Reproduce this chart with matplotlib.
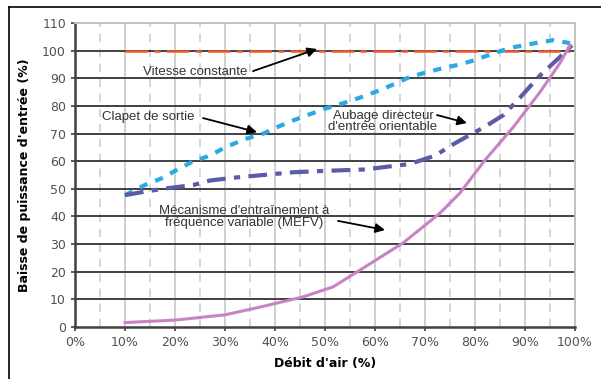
import matplotlib
matplotlib.use("Agg")
import matplotlib.pyplot as plt
from matplotlib.lines import Line2D

# data (x in %, y in %)
x_vitesse = [10, 99]
y_vitesse = [100, 100]

x_clapet = [10, 14, 17.6, 20, 23.7, 27, 30, 34, 37.7, 40, 44, 47, 50, 53.7, 57, 60,
            64, 67, 70, 73.6, 77, 80, 83.7, 87, 90, 92, 95.7, 99]
y_clapet = [47.7, 51.4, 54, 56.5, 60, 62, 65, 68, 70, 72, 75, 77, 79, 81, 83, 85,
            88, 90.5, 92, 93.7, 95, 96.6, 99, 101, 102, 102.7, 103.8, 102.7]

x_aubage = [10, 14, 17.6, 23.7, 27, 31.6, 43.7, 50, 58, 67, 72, 76, 82, 85.7, 89, 93, 97, 99.4]
y_aubage = [47.7, 49, 50, 51.4, 53, 54, 56, 56.5, 57, 59, 62, 66.5, 72.5, 76.7, 83, 91, 97.7, 102]

x_mefv = [10, 20, 30, 37, 45.6, 51.6, 57, 65.6, 73, 77, 82, 87.7, 93, 97, 99]
y_mefv = [1.6, 2.5, 4.4, 7.2, 10.9, 14.5, 20.6, 30.4, 41.2, 48.5, 60.4, 72.4, 85, 95.5, 102]

x_ticks = list(range(0, 101, 10))
x_labels = [f"{v}%" for v in x_ticks]
y_ticks = list(range(0, 111, 10))

fig = plt.figure(figsize=(6.01, 3.79), dpi=100)
ax = fig.add_axes([0.1248, 0.1372, 0.8319, 0.8021])

# grid
for v in range(5, 100, 10):
    ax.axvline(v, color="#d0d0d0", lw=1.2, ls=(0, (5, 4)), zorder=0)
for v in range(10, 100, 10):
    ax.axvline(v, color="#c8c8c8", lw=1.2, zorder=0)
for v in range(10, 110, 10):
    ax.axhline(v, color="#404040", lw=1.4, zorder=0.5)

ax.plot(x_vitesse, y_vitesse, color="#f0582a", lw=1.8, dashes=[9, 2.5, 2.5, 2.5], zorder=3)
ax.plot(x_clapet, y_clapet, color="#2aaae2", lw=3, dashes=[2, 2], zorder=3)
ax.plot(x_aubage, y_aubage, color="#5b5ca8", lw=3, dashes=[4.5, 2, 1.5, 2], zorder=3)
ax.plot(x_mefv, y_mefv, color="#c883c2", lw=2.2, zorder=3)

ax.set_xlim(0, 100)
ax.set_ylim(0, 110)
ax.set_xticks(x_ticks)
ax.set_xticklabels(x_labels)
ax.set_yticks(y_ticks)
ax.tick_params(length=3, width=1.2, color="#404040", labelsize=9, labelcolor="#505050")

for s in ["left", "bottom"]:
    ax.spines[s].set_color("#404040")
    ax.spines[s].set_linewidth(1.8)
for s in ["top", "right"]:
    ax.spines[s].set_color("#c0c0c0")
    ax.spines[s].set_linewidth(1.4)

ax.set_xlabel("Débit d'air (%)", fontweight="bold", fontsize=9, labelpad=6)
ax.set_ylabel("Baisse de puissance d'entrée (%)", fontweight="bold", fontsize=9, labelpad=8)

arrow = dict(arrowstyle="-|>", color="black", lw=1.3, mutation_scale=14, shrinkA=0, shrinkB=0)
tfont = dict(fontsize=9.5, color="#333333", family="Liberation Sans")

ax.text(24, 92.3, "Vitesse constante", ha="center", va="center", **tfont)
ax.annotate("", xy=(48.4, 100.6), xytext=(35.6, 92.6), arrowprops=arrow)

ax.text(14.6, 76, "Clapet de sortie", ha="center", va="center", **tfont)
ax.annotate("", xy=(36.4, 70.5), xytext=(25.6, 75.6), arrowprops=arrow)

ax.text(61.6, 74.3, "Aubage directeur\nd'entrée orientable", ha="center", va="center",
        linespacing=0.95, **tfont)
ax.annotate("", xy=(78.4, 73.8), xytext=(72.4, 76.7), arrowprops=arrow)

ax.text(33.8, 39.8, "Mécanisme d'entraînement à\nfréquence variable (MEFV)", ha="center",
        va="center", linespacing=0.95, **tfont)
ax.annotate("", xy=(62, 35.1), xytext=(52.6, 38.4), arrowprops=arrow)

# outer frame (left and top edges visible in the reference)
fig.add_artist(Line2D([9 / 601, 9 / 601], [0, 1 - 7 / 379], color="black", lw=1.2))
fig.add_artist(Line2D([9 / 601, 1], [1 - 7 / 379, 1 - 7 / 379], color="black", lw=1.2))

fig.savefig("out.png", dpi=100)
